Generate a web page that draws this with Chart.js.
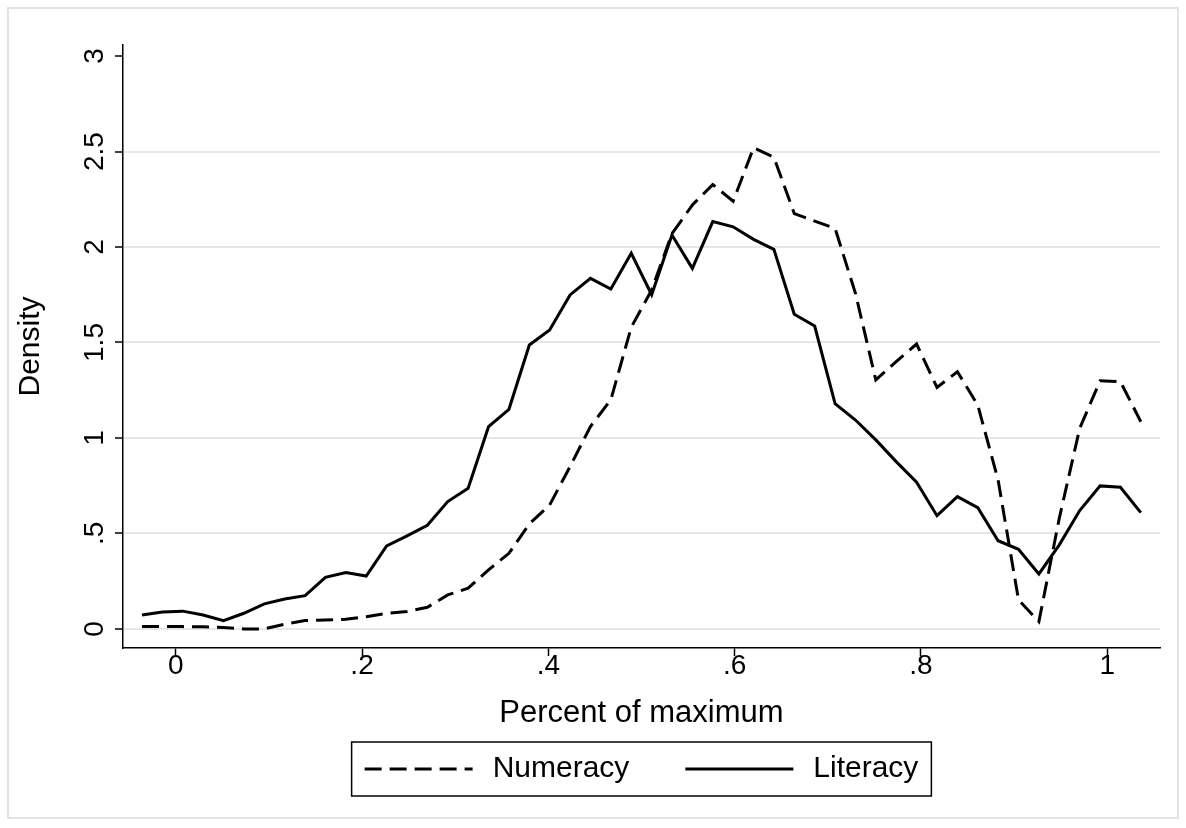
<!DOCTYPE html>
<html>
<head>
<meta charset="utf-8">
<script src="https://cdn.jsdelivr.net/npm/chart.js@4.4.1/dist/chart.umd.min.js"></script>
<style>
  html, body { margin: 0; padding: 0; background: #fff; }
  canvas { display: block; }
</style>
</head>
<body>
<canvas id="densityChart" width="1186" height="828"></canvas>
<script>
// evaluation points of the density estimate (percent of maximum)
const xs = [
  -0.0362, -0.0143, 0.0076, 0.0294, 0.0513, 0.0732, 0.0951, 0.1170, 0.1389, 0.1607,
  0.1826, 0.2045, 0.2264, 0.2483, 0.2701, 0.2920, 0.3139, 0.3358, 0.3577, 0.3796,
  0.4014, 0.4233, 0.4452, 0.4671, 0.4890, 0.5109, 0.5327, 0.5546, 0.5765, 0.5984,
  0.6203, 0.6421, 0.6640, 0.6859, 0.7078, 0.7297, 0.7515, 0.7734, 0.7953, 0.8172,
  0.8391, 0.8610, 0.8828, 0.9047, 0.9266, 0.9485, 0.9704, 0.9923, 1.0141, 1.0360
];

const numeracy = [
  0.012, 0.012, 0.012, 0.011, 0.007, 0.000, 0.000, 0.025, 0.044, 0.047,
  0.050, 0.064, 0.082, 0.091, 0.113, 0.178, 0.213, 0.309, 0.396, 0.550,
  0.649, 0.850, 1.060, 1.200, 1.580, 1.775, 2.070, 2.220, 2.327, 2.240,
  2.520, 2.470, 2.175, 2.136, 2.098, 1.757, 1.304, 1.400, 1.492, 1.265,
  1.347, 1.172, 0.780, 0.152, 0.038, 0.580, 1.050, 1.300, 1.295, 1.085
];

const literacy = [
  0.073, 0.089, 0.093, 0.073, 0.043, 0.082, 0.131, 0.157, 0.174, 0.270,
  0.295, 0.277, 0.435, 0.487, 0.543, 0.667, 0.737, 1.059, 1.150, 1.487,
  1.565, 1.749, 1.836, 1.780, 1.967, 1.750, 2.063, 1.888, 2.133, 2.106,
  2.040, 1.988, 1.648, 1.586, 1.180, 1.094, 0.990, 0.876, 0.768, 0.593,
  0.693, 0.635, 0.462, 0.417, 0.288, 0.440, 0.620, 0.749, 0.742, 0.609
];

const xTicks = [0, 0.2, 0.4, 0.6, 0.8, 1];
const xTickLabels = ['0', '.2', '.4', '.6', '.8', '1'];
const yTicks = [0, 0.5, 1, 1.5, 2, 2.5, 3];
const yTickLabels = ['0', '.5', '1', '1.5', '2', '2.5', '3'];

const FONT = "'Liberation Sans', Arial, Helvetica, sans-serif";
Chart.defaults.font.family = FONT;
Chart.defaults.color = '#000';

// white page with the thin grey frame round the graph region
const frame = {
  id: 'frame',
  beforeDraw(chart) {
    const ctx = chart.ctx;
    ctx.save();
    ctx.fillStyle = '#fff';
    ctx.fillRect(0, 0, chart.width, chart.height);
    ctx.strokeStyle = '#e3e3e3';
    ctx.lineWidth = 2;
    ctx.strokeRect(8, 8, chart.width - 16, chart.height - 18);
    ctx.restore();
  }
};

// legend in a box, centred under the plot area
const boxLegend = {
  id: 'boxLegend',
  afterDraw(chart) {
    const { ctx, chartArea } = chart;
    const sets = chart.data.datasets;
    const lineLen = 108, textGap = 20, itemGap = 56, pad = 13, boxH = 54;
    ctx.save();
    ctx.font = '30px ' + FONT;
    const widths = sets.map(d => ctx.measureText(d.label).width);
    let total = 2 * pad + itemGap * (sets.length - 1);
    widths.forEach(w => { total += lineLen + textGap + w; });
    const left = (chartArea.left + chartArea.right) / 2 - total / 2;
    const top = chart.scales.x.bottom + 10;
    const midY = top + boxH / 2;

    ctx.strokeStyle = '#000';
    ctx.lineWidth = 1.5;
    ctx.strokeRect(left, top, total, boxH);

    let x = left + pad;
    sets.forEach((d, i) => {
      ctx.beginPath();
      ctx.setLineDash(d.borderDash || []);
      ctx.lineWidth = d.borderWidth;
      ctx.strokeStyle = d.borderColor;
      ctx.moveTo(x, midY);
      ctx.lineTo(x + lineLen, midY);
      ctx.stroke();
      x += lineLen + textGap;
      ctx.setLineDash([]);
      ctx.fillStyle = '#000';
      ctx.textBaseline = 'middle';
      ctx.textAlign = 'left';
      ctx.fillText(d.label, x, midY);
      x += widths[i] + itemGap;
    });
    ctx.restore();
  }
};

new Chart(document.getElementById('densityChart'), {
  type: 'line',
  data: {
    datasets: [
      {
        label: 'Numeracy',
        data: xs.map((x, i) => ({ x: x, y: numeracy[i] })),
        borderColor: '#000',
        borderWidth: 3,
        borderDash: [17, 8],
        pointRadius: 0,
        tension: 0,
        fill: false
      },
      {
        label: 'Literacy',
        data: xs.map((x, i) => ({ x: x, y: literacy[i] })),
        borderColor: '#000',
        borderWidth: 3,
        pointRadius: 0,
        tension: 0,
        fill: false
      }
    ]
  },
  options: {
    responsive: false,
    animation: false,
    devicePixelRatio: 1,
    layout: {
      padding: { left: 10, right: 26, top: 45, bottom: 96 }
    },
    plugins: {
      legend: { display: false },
      tooltip: { enabled: false }
    },
    scales: {
      x: {
        type: 'linear',
        min: -0.0566,
        max: 1.0566,
        afterBuildTicks: s => { s.ticks = xTicks.map(v => ({ value: v })); },
        afterFit: s => { s.height = 84; },
        ticks: {
          padding: -4,
          font: { size: 28, lineHeight: 1 },
          color: '#000',
          callback: (v, i) => xTickLabels[i]
        },
        grid: {
          drawOnChartArea: false,
          drawTicks: true,
          tickLength: 8,
          tickColor: '#000',
          tickWidth: 1.5
        },
        border: { color: '#000', width: 1.5 },
        title: {
          display: true,
          text: 'Percent of maximum',
          font: { size: 31 },
          padding: { top: 0, bottom: 0 }
        }
      },
      y: {
        min: -0.1,
        max: 3.058,
        afterBuildTicks: s => { s.ticks = yTicks.map(v => ({ value: v })); },
        afterFit: s => { s.width = 113; },
        ticks: {
          minRotation: 90,
          maxRotation: 90,
          crossAlign: 'center',
          padding: 0,
          font: { size: 28 },
          color: '#000',
          callback: (v, i) => yTickLabels[i]
        },
        grid: {
          color: c => (c.tick && c.tick.value === 3) ? 'rgba(0,0,0,0)' : '#e6e6e6',
          lineWidth: 2,
          drawTicks: true,
          tickLength: 8,
          tickColor: '#000',
          tickWidth: 1.5
        },
        border: { color: '#000', width: 1.5 },
        title: {
          display: true,
          text: 'Density',
          font: { size: 30 },
          padding: { top: 3, bottom: 0 }
        }
      }
    }
  },
  plugins: [frame, boxLegend]
});
</script>
</body>
</html>
